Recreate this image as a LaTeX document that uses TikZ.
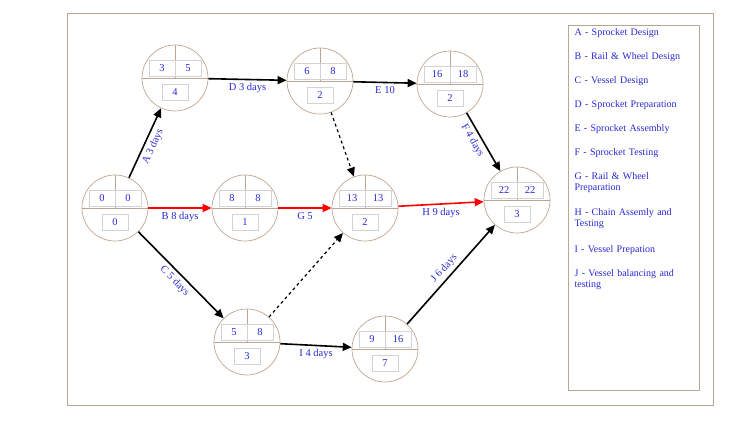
\documentclass[tikz,border=0pt]{standalone}
\usepackage{fontspec}
\setmainfont{Liberation Serif}
\usetikzlibrary{arrows.meta,calc}
\definecolor{tan}{RGB}{190,165,145}
\definecolor{txt}{RGB}{40,40,210}
\definecolor{boxc}{RGB}{215,210,210}
\tikzset{
  circ/.style={circle,draw=tan,line width=0.7pt,minimum size=66pt,inner sep=0pt},
  numbox/.style={draw=boxc,line width=0.6pt,minimum width=26pt,minimum height=16pt,inner sep=0pt,font=\fontsize{10.5}{12}\selectfont,text=txt},
  lab/.style={font=\fontsize{10.5}{12}\selectfont,text=txt},
  act/.style={-{Triangle[length=9pt,width=8pt]},line width=1.6pt,black},
  crit/.style={act,red},
  dum/.style={act,dashed,line width=1.2pt},
}
\newcommand{\pertnode}[6]{%
  \node[circ] (#1) at (#2,#3) {};
  \draw[tan,line width=0.7pt] (#1.north) -- (#1.center) (#1.west) -- (#1.east);
  \node[numbox] (#1es) at ($(#1.center)+(-13,-10)$) {#4};
  \node[numbox] (#1ef) at ($(#1.center)+(13,-10)$) {#5};
  \node[numbox] (#1sl) at ($(#1.center)+(0,14)$) {#6};
}
\begin{document}
\begin{tikzpicture}[x=1pt,y=-1pt]
\useasboundingbox (0,0) rectangle (750,422);
\draw[tan,line width=0.6pt] (67,13) rectangle (713,405);
\draw[tan,line width=0.6pt] (568,25) rectangle (699,390);
\pertnode{n1}{115}{208}{0}{0}{0}
\pertnode{n2}{175}{78}{3}{5}{4}
\pertnode{n3}{245}{208}{8}{8}{1}
\pertnode{n4}{320}{81}{6}{8}{2}
\pertnode{n5}{365}{208}{13}{13}{2}
\pertnode{n6}{247}{342}{5}{8}{3}
\pertnode{n7}{385}{349}{9}{16}{7}
\pertnode{n8}{450}{84}{16}{18}{2}
\pertnode{n9}{517}{200}{22}{22}{3}
\draw[act] (n1) -- node[lab,sloped,below] {A 3 days} (n2);
\draw[crit] (n1) -- node[lab,below] {B 8 days} (n3);
\draw[act] (n1) -- node[lab,sloped,below] {C 5 days} (n6);
\draw[act] (n2) -- node[lab,below] {D 3 days} (n4);
\draw[crit] (n3) -- node[lab,below] {G 5} (n5);
\draw[act] (n4) -- node[lab,below] {E 10} (n8);
\draw[dum] (n4) -- (n5);
\draw[dum] (n6) -- (n5);
\draw[act] (n6) -- node[lab,below] {I 4 days} (n7);
\draw[crit] (n5) -- node[lab,below] {H 9 days} (n9);
\draw[act] (n8) -- node[lab,sloped,below,pos=0.4] {F 4 days} (n9);
\draw[act] (n7) -- node[lab,sloped,above] {J 6 days} (n9);
\begin{scope}[every node/.style={lab,anchor=north west,align=left,text width=125pt,font=\fontsize{10}{11.5}\selectfont}]
\node (l1) at (571,25) {A - Sprocket Design};
\node (l2) at (571,49) {B - Rail \& Wheel Design};
\node (l3) at (571,73) {C - Vessel Design};
\node (l4) at (571,97) {D - Sprocket Preparation};
\node (l5) at (571,121) {E - Sprocket Assembly};
\node (l6) at (571,145) {F - Sprocket Testing};
\node (l7) at (571,169) {G - Rail \& Wheel\\Preparation};
\node (l8) at (571,205) {H - Chain Assemly and\\Testing};
\node (l9) at (571,242) {I - Vessel Prepation};
\node (l10) at (571,266) {J - Vessel balancing and\\testing};
\end{scope}
\end{tikzpicture}
\end{document}
